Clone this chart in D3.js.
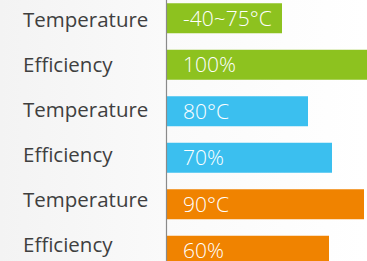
<!DOCTYPE html>
<html>
<head>
<meta charset="utf-8">
<script src="https://cdn.jsdelivr.net/npm/d3@7"></script>
<style>
  html, body { margin: 0; padding: 0; background: #fff; }
  #chart { width: 367px; height: 261px; overflow: hidden; }
</style>
</head>
<body>
<div id="chart"></div>
<script>
var categories = ["Temperature", "Efficiency", "Temperature", "Efficiency", "Temperature", "Efficiency"];
var barLabels = ["-40~75°C", "100%", "80°C", "70%", "90°C", "60%"];
var barValues = [57.5, 100, 70.5, 82.5, 98.5, 81];
var barColors = ["#8dc21f", "#8dc21f", "#3bbfef", "#3bbfef", "#f08300", "#f08300"];

function init(){
	var w = 367;
	var h = 261;
	var axisX = 167;

	var svg = d3.select("#chart")
				.append("svg")
				.attr("width", w)
				.attr("height", h);

	// soft grey backdrop on the label side
	var grad = svg.append("defs").append("linearGradient")
		.attr("id", "bg").attr("x1", "0").attr("x2", "1").attr("y1", "0").attr("y2", "0");
	grad.append("stop").attr("offset", "0").attr("stop-color", "#f3f3f3");
	grad.append("stop").attr("offset", "0.45").attr("stop-color", "#fafafa");
	grad.append("stop").attr("offset", "1").attr("stop-color", "#ffffff");
	svg.append("rect").attr("width", w).attr("height", h).attr("fill", "url(#bg)");

	var idx = d3.range(categories.length);

	var yScale = d3.scaleBand()
		.domain(idx)
		.range([-5, 274])
		.paddingInner(0.355)
		.paddingOuter(0.1775);

	// category labels sit on a slightly tighter row spacing than the bars
	var labelY = d3.scalePoint()
		.domain(idx)
		.range([27, 252]);

	var xScale = d3.scaleLinear()
		.domain([0, 100])
		.range([axisX, w]);

	svg.selectAll("rect.bar")
		.data(idx)
		.enter()
		.append("rect")
		.attr("class", "bar")
		.attr("x", xScale(0))
		.attr("y", function(d){ return yScale(d); })
		.attr("width", function(d){ return xScale(barValues[d]) - xScale(0); })
		.attr("height", yScale.bandwidth())
		.attr("fill", function(d){ return barColors[d]; });

	svg.append("line")
		.attr("x1", axisX - 0.5).attr("x2", axisX - 0.5)
		.attr("y1", 0).attr("y2", h)
		.attr("stroke", "#8a8a8a")
		.attr("stroke-width", 1.2);

	svg.selectAll("text.cat")
		.data(idx)
		.enter()
		.append("text")
		.attr("class", "cat")
		.text(function(d){ return categories[d]; })
		.attr("x", 23)
		.attr("y", function(d){ return labelY(d); })
		.attr("font-family", "'Open Sans', sans-serif")
		.attr("font-size", "20.5")
		.attr("fill", "#3f3f3f");

	svg.selectAll("text.val")
		.data(idx)
		.enter()
		.append("text")
		.attr("class", "val")
		.text(function(d){ return barLabels[d]; })
		.attr("x", xScale(0) + 16)
		.attr("y", function(d){ return yScale(d) + yScale.bandwidth() / 2; })
		.attr("dy", "0.36em")
		.attr("font-family", "'Open Sans', sans-serif")
		.attr("font-weight", "300")
		.attr("font-size", "21")
		.attr("fill", "#ffffff");
}

window.onload = init;
</script>
</body>
</html>
